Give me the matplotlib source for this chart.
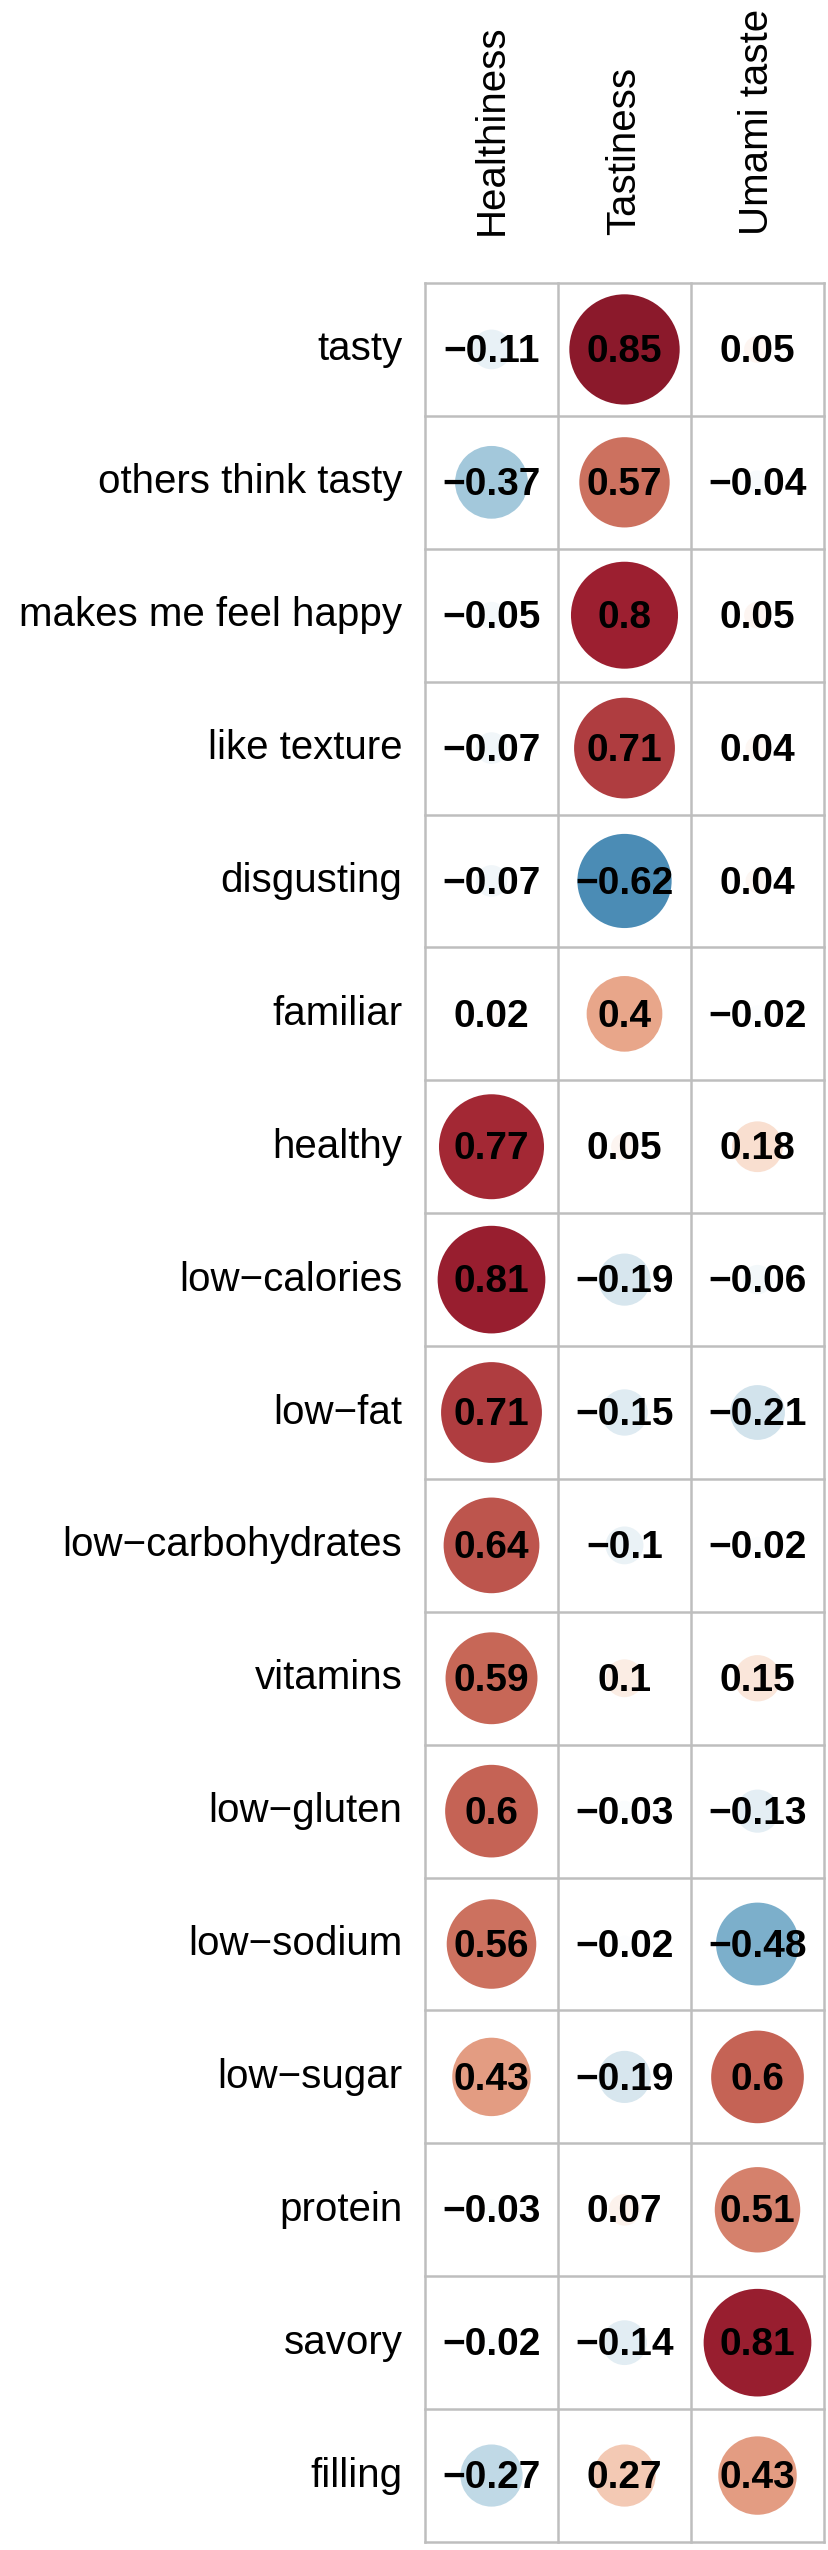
import numpy as np
import matplotlib.pyplot as plt
from matplotlib.colors import LinearSegmentedColormap
from matplotlib.patches import Circle

plt.rcParams['font.family'] = ['Liberation Sans', 'DejaVu Sans']

rows = ['tasty', 'others think tasty', 'makes me feel happy', 'like texture',
        'disgusting', 'familiar', 'healthy', 'low\u2212calories', 'low\u2212fat',
        'low\u2212carbohydrates', 'vitamins', 'low\u2212gluten', 'low\u2212sodium',
        'low\u2212sugar', 'protein', 'savory', 'filling']
cols = ['Healthiness', 'Tastiness', 'Umami taste']

healthiness = [-0.11, -0.37, -0.05, -0.07, -0.07, 0.02, 0.77, 0.81, 0.71,
               0.64, 0.59, 0.6, 0.56, 0.43, -0.03, -0.02, -0.27]
tastiness = [0.85, 0.57, 0.8, 0.71, -0.62, 0.4, 0.05, -0.19, -0.15,
             -0.1, 0.1, -0.03, -0.02, -0.19, 0.07, -0.14, 0.27]
umami = [0.05, -0.04, 0.05, 0.04, 0.04, -0.02, 0.18, -0.06, -0.21,
         -0.02, 0.15, -0.13, -0.48, 0.6, 0.51, 0.81, 0.43]

corr = np.array([healthiness, tastiness, umami]).T

palette = ["#053061", "#2166AC", "#4393C3", "#92C5DE", "#D1E5F0", "#FFFFFF",
           "#FDDBC7", "#F4A582", "#D6604D", "#B2182B", "#67001F"]
cmap = LinearSegmentedColormap.from_list('rdbu', palette, N=200)


def soften(c, amt=0.18):
    # the reference looks a bit washed out, pull colours towards their grey
    r, g, b = c[:3]
    lum = 0.3 * r + 0.59 * g + 0.11 * b
    return tuple((1 - amt) * x + amt * lum for x in (r, g, b))


def fmt(v):
    s = ('%.2f' % abs(v)).rstrip('0')
    if s.endswith('.'):
        s = s[:-1]
    return ('\u2212' if v < 0 else '') + s


W, H = 829, 2550
fig = plt.figure(figsize=(W / 100, H / 100), dpi=100)
left, right, top, bottom = 425, 824, 283, 2542
ax = fig.add_axes([left / W, (H - bottom) / H, (right - left) / W, (bottom - top) / H])

nr, nc = corr.shape
ax.set_xlim(0, nc)
ax.set_ylim(nr, 0)
ax.set_axis_off()

for i in range(nr):
    for j in range(nc):
        v = corr[i, j]
        r = 0.9 * np.sqrt(abs(v)) / 2
        ax.add_patch(Circle((j + 0.5, i + 0.5), r, facecolor=soften(cmap((v + 1) / 2)),
                            edgecolor='none', zorder=1))
        ax.text(j + 0.5, i + 0.52, fmt(v), ha='center', va='center',
                fontsize=28, fontweight='bold', color='black', zorder=3)

for k in range(nr + 1):
    ax.plot([0, nc], [k, k], color='#BEBEBE', lw=1.8, zorder=2, clip_on=False)
for k in range(nc + 1):
    ax.plot([k, k], [0, nr], color='#BEBEBE', lw=1.8, zorder=2, clip_on=False)

for i, name in enumerate(rows):
    ax.text(-0.17, i + 0.5, name, ha='right', va='center', fontsize=29)

for j, name in enumerate(cols):
    ax.text(j + 0.5, -0.36, name, ha='center', va='bottom', rotation=90, fontsize=29)

plt.savefig('out.png', dpi=100)
